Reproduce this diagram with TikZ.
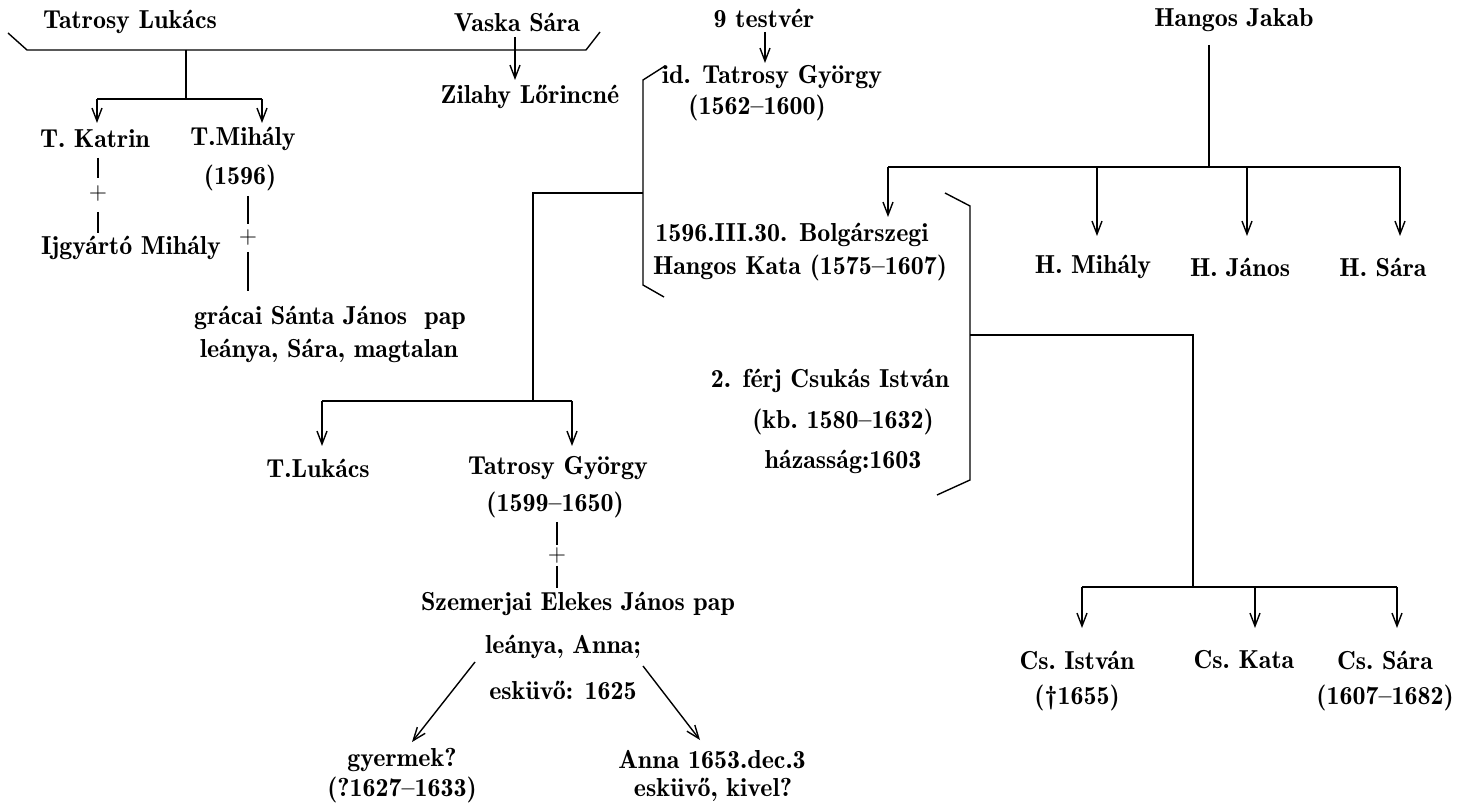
\documentclass[tikz,border=0pt]{standalone}
\usetikzlibrary{arrows.meta}
\begin{document}
\begin{tikzpicture}[x=0.5pt,y=-0.5pt,
  lbl/.style={inner sep=0pt, font={\fontsize{13}{15}\fontseries{b}\selectfont}},
  pl/.style={inner sep=0pt, font={\fontsize{13}{15}\selectfont}},
  ln/.style={line width=0.7pt},
  arr/.style={line width=0.7pt,-{Straight Barb[length=6.5pt,width=5pt,line width=0.7pt]}},
]
\useasboundingbox (0,0) rectangle (1468,812);
\fill[white] (0,0) rectangle (1468,812);

% ---------- top left family ----------
\node[lbl] (tlukacs) at (130,22) {Tatrosy Lukács};
\node[lbl] (vsara)   at (517,22) {Vaska Sára};
\coordinate (b1a) at (8,33);
\coordinate (b1b) at (27,50);
\coordinate (b1c) at (586,50);
\coordinate (b1d) at (600,32);
\draw[ln] (b1a) -- (b1b) -- (b1c) -- (b1d);
\coordinate (s1) at (186,50);
\coordinate (s1b) at (186,99);
\coordinate (h1l) at (97,99);
\coordinate (h1r) at (262,99);
\coordinate (a1l) at (97,123);
\coordinate (a1r) at (262,123);
\draw[ln] (s1) -- (s1b);
\draw[ln] (h1l) -- (h1r);
\draw[arr] (h1l) -- (a1l);
\draw[arr] (h1r) -- (a1r);

\node[lbl] (zilahy) at (530,97) {Zilahy Lőrincné};
\coordinate (va1) at (515,37);
\coordinate (va2) at (515,80);
\draw[arr] (va1) -- (va2);

\node[lbl] (katrin)  at (95,139) {T. Katrin};
\node[lbl] (tmihaly) at (243,139) {T.Mihály};
\node[lbl] (m1596)   at (240,178) {(1596)};

\coordinate (k1) at (98,158);
\coordinate (k2) at (98,178);
\node[pl] (kplus) at (98,194) {$+$};
\coordinate (k3) at (98,212);
\coordinate (k4) at (98,233);
\draw[ln] (k1) -- (k2);
\draw[ln] (k3) -- (k4);
\node[lbl] (ijgyarto) at (131,248) {Ijgyártó Mihály};

\coordinate (m1) at (248,196);
\coordinate (m2) at (248,224);
\node[pl] (mplus) at (248,238) {$+$};
\coordinate (m3) at (248,252);
\coordinate (m4) at (248,291);
\draw[ln] (m1) -- (m2);
\draw[ln] (m3) -- (m4);
\node[lbl] (gracai)  at (330,318) {grácai Sánta János\ \ pap};
\node[lbl] (leanya1) at (329,351) {leánya, Sára, magtalan};

% ---------- id. Tatrosy György ----------
\node[lbl] (testver) at (764,18) {9 testvér};
\coordinate (t1) at (765,32);
\coordinate (t2) at (765,63);
\draw[arr] (t1) -- (t2);
\node[lbl] (idtg)  at (772,77) {id. Tatrosy György};
\node[lbl] (i1562) at (757,108) {(1562–1600)};

\coordinate (b2a) at (665,66);
\coordinate (b2b) at (643,80);
\coordinate (b2m) at (643,193);
\coordinate (b2c) at (643,285);
\coordinate (b2d) at (664,297);
\draw[ln] (b2a) -- (b2b) -- (b2c) -- (b2d);

\node[lbl] (bolg)  at (792,235) {1596.III.30. Bolgárszegi};
\node[lbl] (hkata) at (800,268) {Hangos Kata (1575–1607)};

\coordinate (c2) at (533,193);
\coordinate (c3) at (533,401);
\coordinate (h2l) at (322,401);
\coordinate (h2r) at (572,401);
\coordinate (a2l) at (322,446);
\coordinate (a2r) at (572,446);
\draw[ln] (b2m) -- (c2) -- (c3);
\draw[ln] (h2l) -- (h2r);
\draw[arr] (h2l) -- (a2l);
\draw[arr] (h2r) -- (a2r);

\node[lbl] (tlukacs2) at (318,468) {T.Lukács};
\node[lbl] (tgyorgy)  at (558,468) {Tatrosy György};
\node[lbl] (t1599)    at (555,505) {(1599–1650)};

\coordinate (g1) at (557,522);
\coordinate (g2) at (557,545);
\node[pl] (gplus) at (557,555) {$+$};
\coordinate (g3) at (557,566);
\coordinate (g4) at (557,588);
\draw[ln] (g1) -- (g2);
\draw[ln] (g3) -- (g4);

\node[lbl] (szem)    at (578,604) {Szemerjai Elekes János pap};
\node[lbl] (leanya2) at (563,647) {leánya, Anna;};
\node[lbl] (esk1)    at (563,690) {esküvő: 1625};

\coordinate (d1s) at (475,662);
\coordinate (d1e) at (412,742);
\coordinate (d2s) at (643,666);
\coordinate (d2e) at (700,740);
\draw[arr] (d1s) -- (d1e);
\draw[arr] (d2s) -- (d2e);

\node[lbl] (gyermek) at (402,760) {gyermek?};
\node[lbl] (q1627)   at (402,790) {(?1627–1633)};
\node[lbl] (anna)    at (712,760) {Anna 1653.dec.3};
\node[lbl] (kivel)   at (713,790) {esküvő, kivel?};

% ---------- Hangos Jakab ----------
\node[lbl] (hjakab) at (1234,20) {Hangos Jakab};
\coordinate (j1) at (1209,45);
\coordinate (j2) at (1209,167);
\coordinate (h3l) at (888,167);
\coordinate (h3r) at (1400,167);
\coordinate (h3a) at (1097,167);
\coordinate (h3b) at (1247,167);
\draw[ln] (j1) -- (j2);
\draw[ln] (h3l) -- (h3r);
\coordinate (a3k) at (888,217);
\coordinate (a3a) at (1097,236);
\coordinate (a3b) at (1247,236);
\coordinate (a3c) at (1400,236);
\draw[arr] (h3l) -- (a3k);
\draw[arr] (h3a) -- (a3a);
\draw[arr] (h3b) -- (a3b);
\draw[arr] (h3r) -- (a3c);

\node[lbl] (hmihaly) at (1093,267) {H. Mihály};
\node[lbl] (hjanos)  at (1240,267) {H. János};
\node[lbl] (hsara)   at (1383,267) {H. Sára};

% ---------- Csukás ----------
\coordinate (b3a) at (945,193);
\coordinate (b3b) at (970,206);
\coordinate (b3m) at (970,335);
\coordinate (b3c) at (970,480);
\coordinate (b3d) at (937,495);
\draw[ln] (b3a) -- (b3b) -- (b3c) -- (b3d);

\node[lbl] (ferj)  at (830,381) {2. férj Csukás István};
\node[lbl] (kb)    at (843,422) {(kb.\ 1580–1632)};
\node[lbl] (haz)   at (843,462) {házasság:1603};

\coordinate (e2) at (1193,335);
\coordinate (e3) at (1193,587);
\coordinate (h4l) at (1082,587);
\coordinate (h4m) at (1255,587);
\coordinate (h4r) at (1397,587);
\draw[ln] (b3m) -- (e2) -- (e3);
\draw[ln] (h4l) -- (h4r);
\coordinate (a4l) at (1082,628);
\coordinate (a4m) at (1255,628);
\coordinate (a4r) at (1397,628);
\draw[arr] (h4l) -- (a4l);
\draw[arr] (h4m) -- (a4m);
\draw[arr] (h4r) -- (a4r);

\node[lbl] (csist)  at (1077,660) {Cs.\ István};
\node[lbl] (dag)    at (1077,698) {(\textdagger1655)};
\node[lbl] (cskata) at (1244,660) {Cs.\ Kata};
\node[lbl] (cssara) at (1385,660) {Cs.\ Sára};
\node[lbl] (s1607)  at (1385,698) {(1607–1682)};
\end{tikzpicture}
\end{document}
